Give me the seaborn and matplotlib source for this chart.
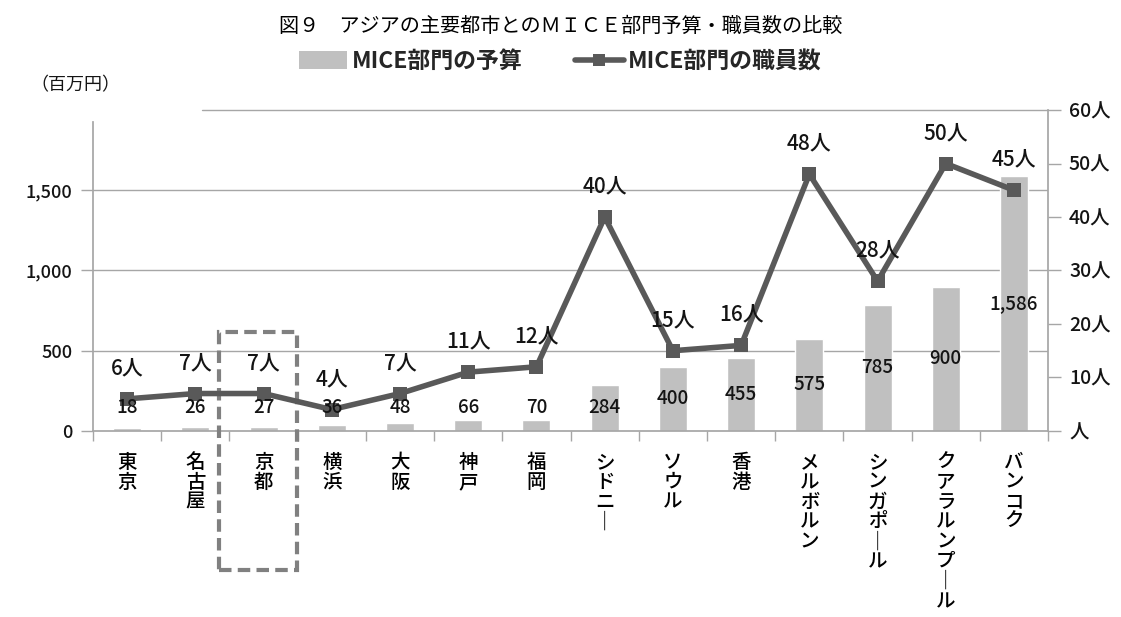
import numpy as np
import pandas as pd
import matplotlib
matplotlib.use("Agg")
import matplotlib.pyplot as plt
from matplotlib.patches import Rectangle, Patch
from matplotlib.lines import Line2D
import seaborn as sns

cities = ["東京", "名古屋", "京都", "横浜", "大阪", "神戸", "福岡", "シドニー", "ソウル",
          "香港", "メルボルン", "シンガポール", "クアラルンプール", "バンコク"]
budget = [18, 26, 27, 36, 48, 66, 70, 284, 400, 455, 575, 785, 900, 1586]
staff = [6, 7, 7, 4, 7, 11, 12, 40, 15, 16, 48, 28, 50, 45]
left_ticks = [0, 500, 1000, 1500]
left_tick_labels = ["0", "500", "1,000", "1,500"]
right_ticks = [0, 10, 20, 30, 40, 50, 60]
right_tick_labels = ["人", "10人", "20人", "30人", "40人", "50人", "60人"]
title = "図９　アジアの主要都市とのＭＩＣＥ部門予算・職員数の比較"
bar_name = "MICE部門の予算"
line_name = "MICE部門の職員数"
unit_label = "（百万円）"
highlight = "京都"

sns.set_theme(style="white")
plt.rcParams["font.family"] = ["Noto Sans CJK JP", "DejaVu Sans"]

BAR_C = "#c0c0c0"
LINE_C = "#595959"
GRID_C = "#a6a6a6"
TXT_C = "#141414"
W = "medium"

df = pd.DataFrame({"city": cities, "budget": budget, "staff": staff})
df["pos"] = np.arange(len(df))

fig = plt.figure(figsize=(11.21, 6.17), dpi=100)
ax = fig.add_axes([0.083, 0.3015, 0.852, 0.5202])

sns.barplot(data=df, x="city", y="budget", color=BAR_C, width=0.41, ax=ax,
            saturation=1, zorder=2)
ax.set_xlim(-0.5, len(cities) - 0.5)
ax.set_ylim(0, 2000)
ax.set_xlabel("")
ax.set_ylabel("")

for v in [500, 1000, 1500]:
    ax.axhline(v, color=GRID_C, lw=1, zorder=0)
ax.axhline(2000, xmin=0.114, xmax=1, color=GRID_C, lw=1, zorder=0, clip_on=False)

ax.set_yticks(left_ticks)
ax.set_yticklabels(left_tick_labels, fontsize=13, color=TXT_C, fontweight=W)
ax.tick_params(axis="y", left=True, length=9, width=1, color=GRID_C, pad=6)

vert = ["\n".join(c.replace("ー", "｜")) for c in cities]
ax.set_xticks(range(len(cities)))
ax.set_xticklabels(vert, fontsize=14, color="black", linespacing=1.05, va="top",
                   fontweight=W)
ax.tick_params(axis="x", bottom=False, length=0, pad=16)
ax.set_xticks(np.arange(-0.5, len(cities), 1), minor=True)
ax.tick_params(axis="x", which="minor", bottom=True, length=7, width=1, color=GRID_C)

for s in ["top", "right"]:
    ax.spines[s].set_visible(False)
ax.spines["left"].set_color(GRID_C)
ax.spines["left"].set_bounds(0, 1925)
ax.spines["bottom"].set_color(GRID_C)

ax2 = ax.twinx()
sns.lineplot(data=df, x="pos", y="staff", ax=ax2, color=LINE_C, lw=4,
             marker="s", markersize=10, markeredgewidth=0, zorder=4)
ax2.set_ylim(0, 60)
ax2.set_xlim(-0.5, len(cities) - 0.5)
ax2.set_yticks(right_ticks)
ax2.set_yticklabels(right_tick_labels, fontsize=14, color=TXT_C, fontweight=W)
ax2.tick_params(axis="y", right=True, length=9, width=1, color=GRID_C, pad=6)
ax2.set_ylabel("")
ax2.set_xlabel("")
for s in ["top", "left", "bottom"]:
    ax2.spines[s].set_visible(False)
ax2.spines["right"].set_color(GRID_C)

for i, v in enumerate(budget):
    ax2.text(i, max(v / 2, 145), f"{v:,}", ha="center", va="center",
             fontsize=13.5, color=TXT_C, zorder=6, transform=ax.transData,
             fontweight=W)

for i, v in enumerate(staff):
    ax2.annotate(f"{v}人", (i, v), xytext=(0, 22), textcoords="offset points",
                 ha="center", va="center", fontsize=15, color=TXT_C, zorder=6,
                 fontweight=W)

hi = cities.index(highlight)
ax.add_patch(Rectangle((hi - 0.65, -865), 1.14, 1480, fill=False,
                       ls=(0, (3, 1.5)), lw=3, edgecolor="#808080",
                       clip_on=False, zorder=7))

fig.text(0.5, 0.957, title, ha="center", va="center", fontsize=14.5, color="black")
fig.text(0.027, 0.862, unit_label, ha="left", va="center", fontsize=13, color=TXT_C)

handles = [Patch(facecolor=BAR_C, edgecolor="none", label=bar_name),
           Line2D([0], [0], color=LINE_C, lw=4, marker="s", markersize=9,
                  markeredgewidth=0, label=line_name)]
fig.legend(handles=handles, loc="center", bbox_to_anchor=(0.5, 0.9), ncol=2,
           frameon=False, prop={"size": 16.5, "weight": "bold"},
           handlelength=2.1, handleheight=0.8,
           columnspacing=2.3, handletextpad=0.2)

fig.savefig("out.png", dpi=100)
